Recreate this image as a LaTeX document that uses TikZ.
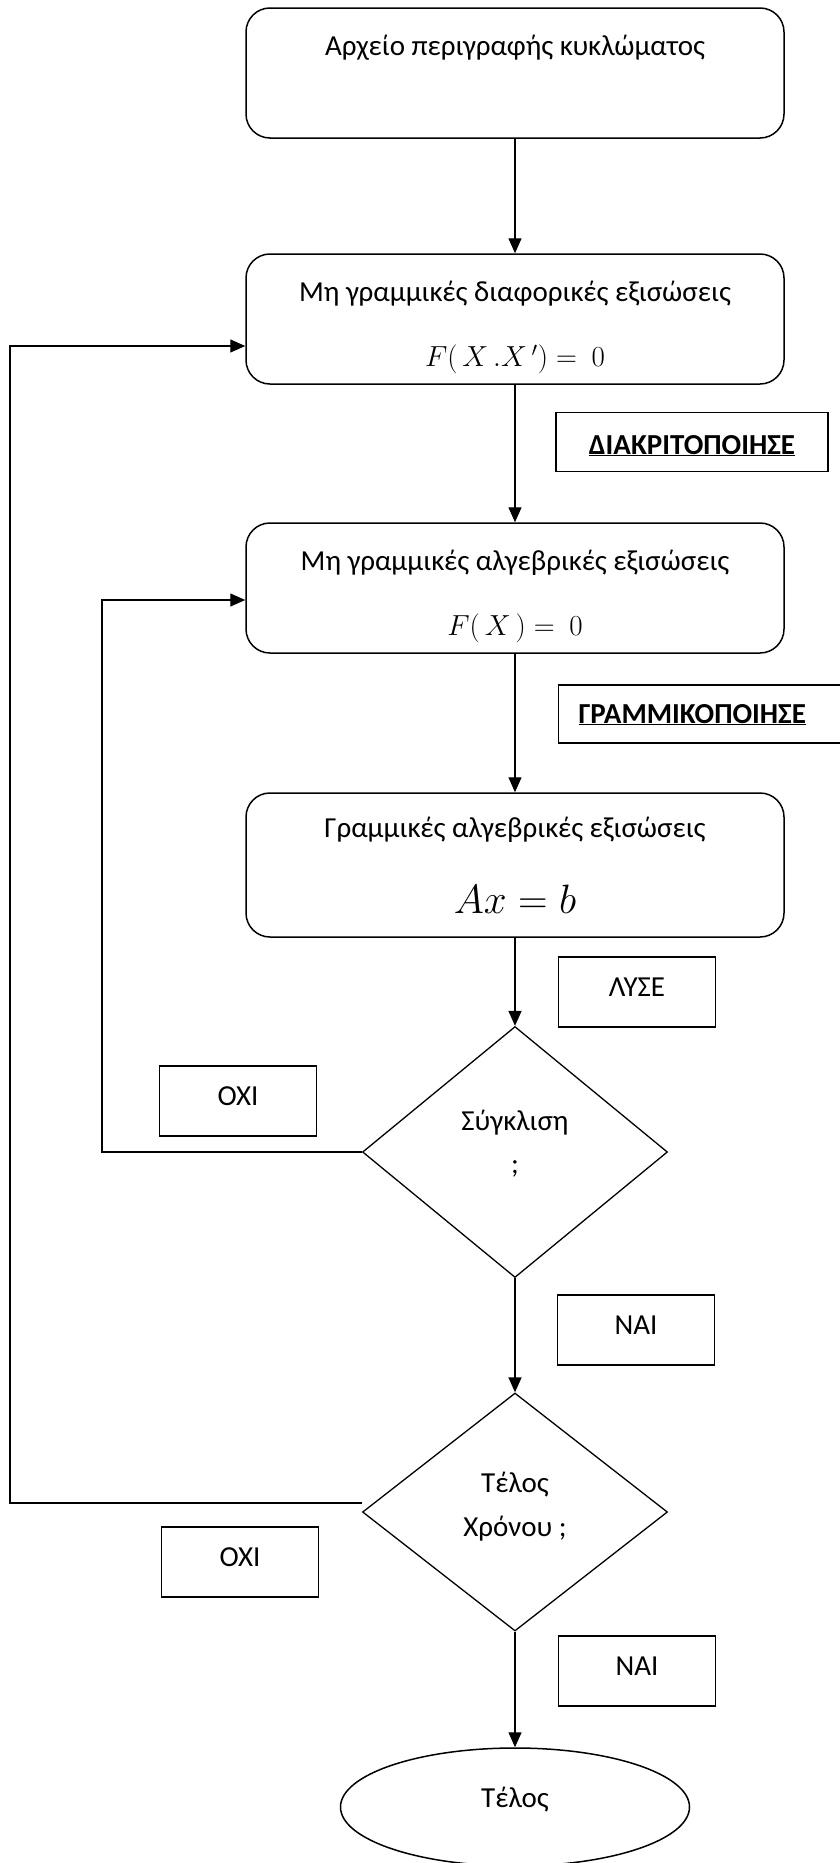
\documentclass[tikz,border=0pt]{standalone}
\usepackage{fix-cm}
\usepackage[no-math]{fontspec}
\setmainfont{Carlito}
\usetikzlibrary{shapes.geometric,arrows.meta}

\tikzset{
  flowbox/.style={draw, rounded corners=24pt, line width=1.5pt, minimum width=538pt, align=center, inner sep=0pt},
  tagbox/.style={draw, line width=1.2pt, minimum width=157pt, minimum height=70pt, inner sep=0pt, text depth=10pt},
  decision/.style={draw, diamond, line width=1.3pt, minimum width=305pt, align=center, inner sep=0pt},
  flow/.style={line width=1.4pt, -{Triangle[length=15pt,width=13pt]}}
}
\newcommand{\topstrut}[1]{\rule{0pt}{#1}}
\newcommand{\botstrut}[1]{\rule[-#1]{0pt}{0pt}}

\begin{document}
\begin{tikzpicture}[x=1pt, y=-1pt, font=\fontsize{29}{35}\selectfont]
    \useasboundingbox (0,0) rectangle (840,1863);

    % Main boxes
    \node[flowbox, minimum height=130pt] (netlist) at (515,73) {Αρχείο περιγραφής κυκλώματος\\[21pt]\mbox{}};
    \node[flowbox, minimum height=130pt] (ode) at (515,319) {\topstrut{38pt}Μη γραμμικές διαφορικές εξισώσεις\\[30pt]$F(\,X\,.X\,')=\ 0$};
    \node[flowbox, minimum height=130pt] (alg) at (515,588) {\topstrut{38pt}Μη γραμμικές αλγεβρικές εξισώσεις\\[30pt]$F(\,X\,)=\ 0$};
    \node[flowbox, minimum height=144pt] (linalg) at (515,865) {Γραμμικές αλγεβρικές εξισώσεις\\[41pt]{\fontsize{41}{49}\selectfont$Ax=b$}};

    % Decisions and end
    \node[decision, minimum height=251pt] (conv) at (515,1152) {Σύγκλιση\\[8pt];\botstrut{20pt}};
    \node[decision, minimum height=238pt] (tend) at (515,1512) {Τέλος\\[9pt]Χρόνου ;\botstrut{16pt}};
    \node[draw, ellipse, line width=1.5pt, minimum width=349pt, minimum height=118pt, text depth=20pt] (stop) at (515,1807) {Τέλος};

    % Step labels
    \node[tagbox, font=\fontsize{29}{35}\selectfont\bfseries, minimum width=272pt, minimum height=59pt, text height=29pt, text depth=5pt] (discr) at (692,442) {\underline{ΔΙΑΚΡΙΤΟΠΟΙΗΣΕ}};
    \node[tagbox, font=\fontsize{29}{35}\selectfont\bfseries, anchor=west, minimum height=58pt, text width=250pt, inner xsep=20pt, align=left, text height=23pt, text depth=5pt] (linz) at (558,714) {\underline{ΓΡΑΜΜΙΚΟΠΟΙΗΣΕ}};
    \node[tagbox] (solve) at (637,992) {ΛΥΣΕ};
    \node[tagbox] (no1) at (238,1101) {ΟΧΙ};
    \node[tagbox] (yes1) at (636,1330) {ΝΑΙ};
    \node[tagbox] (no2) at (240,1562) {ΟΧΙ};
    \node[tagbox] (yes2) at (637,1671) {ΝΑΙ};

    % Forward arrows
    \draw[flow] (netlist.south) -- (ode.north);
    \draw[flow] (ode.south) -- (alg.north);
    \draw[flow] (alg.south) -- (linalg.north);
    \draw[flow] (linalg.south) -- (conv.north);
    \draw[flow] (conv.south) -- (tend.north);
    \draw[flow] (tend.south) -- (stop.north);

    % Feedback loops
    \coordinate (innerx) at (102,0);
    \coordinate (outerx) at (10,0);
    \draw[flow] (conv.west) -- (conv.west -| innerx) |- ([yshift=-12pt]alg.west);
    \draw[flow] ([yshift=9pt]tend.west) -- ([yshift=9pt]tend.west -| outerx) |- ([yshift=-27pt]ode.west);
\end{tikzpicture}
\end{document}
